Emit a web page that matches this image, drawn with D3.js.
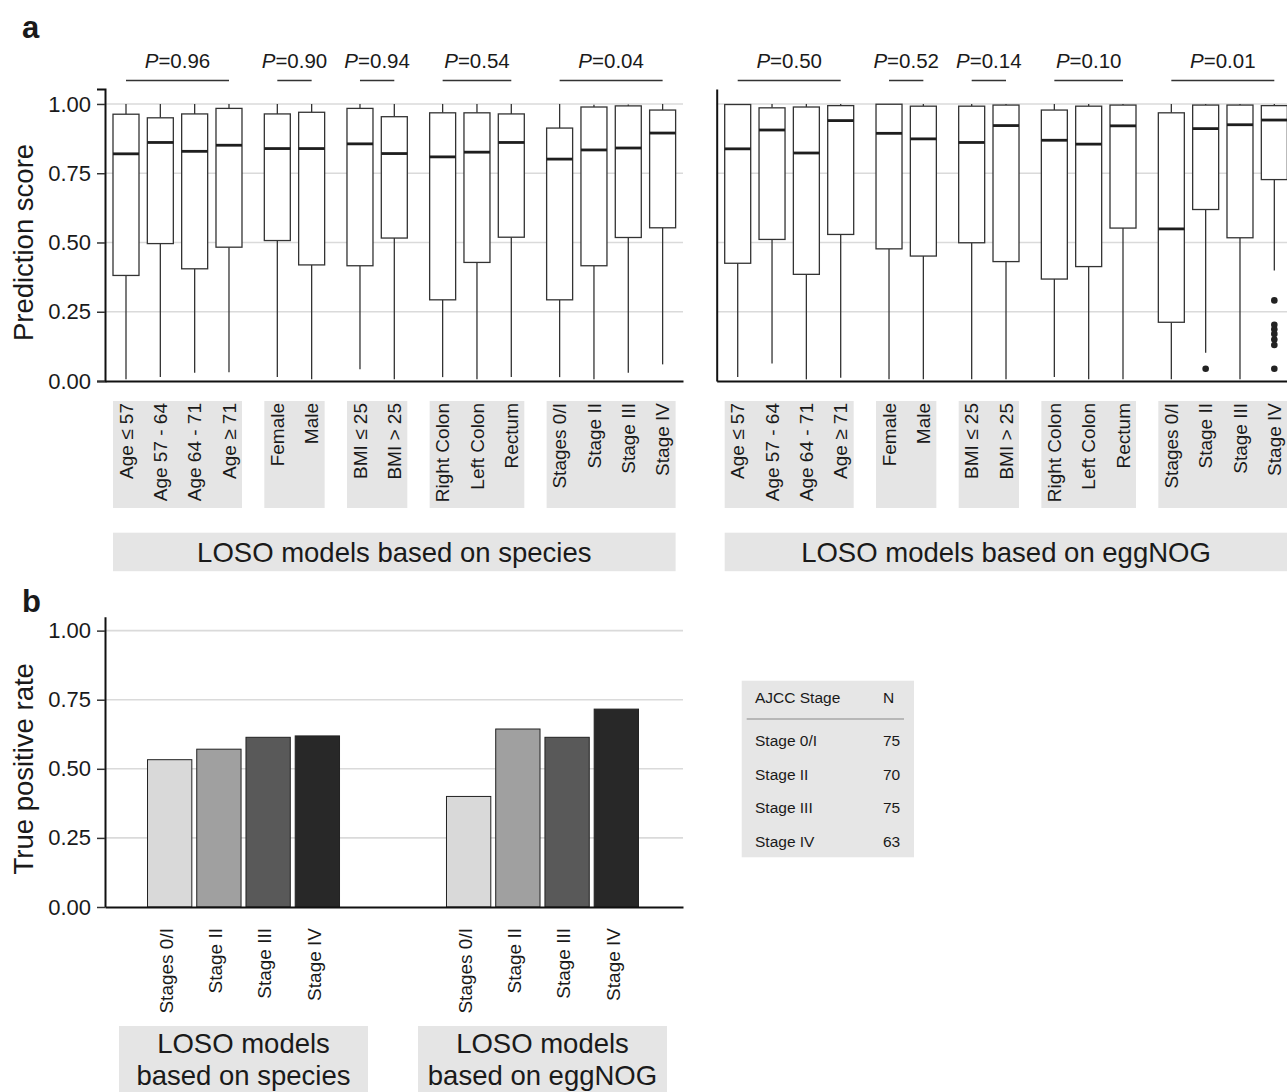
<!DOCTYPE html>
<html><head><meta charset="utf-8">
<script src="https://cdn.jsdelivr.net/npm/d3@7"></script>
<style>
body{margin:0;background:#fff}
svg{display:block}
text{font-family:"Liberation Sans",Arial,Helvetica,sans-serif;fill:#1a1a1a}
</style>
</head><body>
<svg id="chart" width="1287" height="1092"></svg>
<script>
// ---------- DATA ----------
const categories = ["Age \u2264 57","Age 57 - 64","Age 64 - 71","Age \u2265 71","Female","Male","BMI \u2264 25","BMI > 25","Right Colon","Left Colon","Rectum","Stages 0/I","Stage II","Stage III","Stage IV"];
const categoryGroup = [0,0,0,0,1,1,2,2,3,3,3,4,4,4,4];
const pSpecies = ["0.96","0.90","0.94","0.54","0.04"];
const pEggnog  = ["0.50","0.52","0.14","0.10","0.01"];

// box statistics (prediction score) - LOSO species
const speciesMin    = [0.006,0.014,0.030,0.032,0.014,0.006,0.042,0.006,0.014,0.006,0.014,0.014,0.006,0.030,0.060];
const speciesQ1     = [0.381,0.496,0.405,0.483,0.507,0.419,0.416,0.516,0.293,0.428,0.519,0.293,0.416,0.518,0.553];
const speciesMedian = [0.820,0.861,0.829,0.851,0.839,0.839,0.856,0.821,0.809,0.826,0.861,0.801,0.834,0.841,0.895];
const speciesQ3     = [0.963,0.950,0.964,0.984,0.964,0.970,0.984,0.954,0.968,0.968,0.964,0.913,0.989,0.993,0.978];
const speciesMax    = [1,1,1,1,1,1,1,1,1,1,1,1,0.997,0.998,1];

// box statistics - LOSO eggNOG
const eggnogMin    = [0.014,0.063,0.006,0.012,0.006,0.006,0.006,0.006,0.014,0.006,0.006,0.006,0.102,0.006,0.399];
const eggnogQ1     = [0.425,0.511,0.385,0.529,0.477,0.451,0.499,0.431,0.368,0.413,0.552,0.212,0.619,0.517,0.727];
const eggnogMedian = [0.838,0.906,0.823,0.940,0.894,0.874,0.861,0.922,0.869,0.855,0.921,0.549,0.911,0.925,0.942];
const eggnogQ3     = [0.998,0.986,0.989,0.994,0.999,0.992,0.992,0.996,0.978,0.992,0.996,0.968,0.996,0.996,0.994];
const eggnogMax    = [1,1,1,1,1,1,1,1,1,1,1,1,1,1,1];
const eggnogOutlierCategory = [12,14,14,14,14,14,14,14];
const eggnogOutlierValue    = [0.044,0.291,0.203,0.187,0.170,0.150,0.130,0.044];

const yTicks = [0,0.25,0.5,0.75,1];
const modelTitles = ["LOSO models based on species","LOSO models based on eggNOG"];
const modelTitleLines = [["LOSO models","based on species"],["LOSO models","based on eggNOG"]];

// panel b
const stages = ["Stages 0/I","Stage II","Stage III","Stage IV"];
const tprSpecies = [0.533,0.571,0.614,0.619];
const tprEggnog  = [0.400,0.644,0.614,0.716];
const stageColors = ["#d9d9d9","#a0a0a0","#595959","#282828"];

// table
const tableHeader = ["AJCC Stage","N"];
const tableStages = ["Stage 0/I","Stage II","Stage III","Stage IV"];
const tableN = [75,70,75,63];

// ---------- DRAW ----------
const svg = d3.select("#chart");
const gridColor = "#dadada";
const lineColor = "#333";

svg.append("text").attr("x",22).attr("y",38).attr("font-size",31).attr("font-weight","bold").text("a");
svg.append("text").attr("x",22).attr("y",612).attr("font-size",31).attr("font-weight","bold").text("b");

// ===== Panel a =====
const yA = d3.scaleLinear().domain([0,1.054]).range([381,89]);
const gapUnits = 14/34.33;
const posOf = i => i + categoryGroup[i]*gapUnits;
const nGroups = 5;

const panelsA = [
  {x0:105, first:126, min:speciesMin, q1:speciesQ1, med:speciesMedian, q3:speciesQ3, max:speciesMax, p:pSpecies, oc:[], ov:[], title:modelTitles[0], ticks:true},
  {x0:716.7, first:737.7, min:eggnogMin, q1:eggnogQ1, med:eggnogMedian, q3:eggnogQ3, max:eggnogMax, p:pEggnog, oc:eggnogOutlierCategory, ov:eggnogOutlierValue, title:modelTitles[1], ticks:false}
];

panelsA.forEach(P => {
  const xs = d3.scaleLinear().domain([0,1]).range([P.first, P.first+34.33]);
  const xRight = P.x0 + 578;
  const g = svg.append("g");

  // gridlines
  g.selectAll("line.grid").data(yTicks.filter(t=>t>0)).join("line")
    .attr("x1",P.x0).attr("x2",xRight)
    .attr("y1",d=>yA(d)).attr("y2",d=>yA(d))
    .attr("stroke",gridColor).attr("stroke-width",1.6);

  // y axis
  const ax = d3.axisLeft(yA).tickSizeOuter(0);
  if (P.ticks) ax.tickValues(yTicks).tickFormat(d3.format(".2f")).tickSize(8).tickPadding(6);
  else ax.tickValues([]);
  const ga = g.append("g").attr("transform",`translate(${P.x0},0)`).call(ax);
  ga.select(".domain").attr("stroke","#111").attr("stroke-width",2);
  ga.selectAll(".tick line").attr("stroke","#333").attr("stroke-width",1.5);
  ga.selectAll(".tick text").attr("font-size",22).attr("fill","#1a1a1a")
    .style("font-family",'"Liberation Sans",Arial,sans-serif');

  // x axis line
  const xAxisScale = d3.scaleLinear().range([P.x0, xRight]);
  const gx = g.append("g").attr("transform",`translate(0,${yA(0)})`)
    .call(d3.axisBottom(xAxisScale).tickValues([]).tickSizeOuter(0));
  gx.select(".domain").attr("stroke","#111").attr("stroke-width",2);

  // boxes
  categories.forEach((c,i) => {
    const cx = xs(posOf(i));
    g.append("line").attr("x1",cx).attr("x2",cx).attr("y1",yA(P.max[i])).attr("y2",yA(P.q3[i]))
      .attr("stroke",lineColor).attr("stroke-width",1.3);
    g.append("line").attr("x1",cx).attr("x2",cx).attr("y1",yA(P.q1[i])).attr("y2",yA(P.min[i]))
      .attr("stroke",lineColor).attr("stroke-width",1.3);
    g.append("rect").attr("x",cx-13).attr("width",26)
      .attr("y",yA(P.q3[i])).attr("height",yA(P.q1[i])-yA(P.q3[i]))
      .attr("fill","#fff").attr("stroke",lineColor).attr("stroke-width",1.3);
    g.append("line").attr("x1",cx-13).attr("x2",cx+13).attr("y1",yA(P.med[i])).attr("y2",yA(P.med[i]))
      .attr("stroke","#1e1e1e").attr("stroke-width",2.8);
  });

  // outliers
  g.selectAll("circle.out").data(P.oc.map((c,k)=>({c, v:P.ov[k]}))).join("circle")
    .attr("cx",d=>xs(posOf(d.c))).attr("cy",d=>yA(d.v)).attr("r",3.3).attr("fill","#222");

  // P-values and group strips
  for (let gi=0; gi<nGroups; gi++) {
    const idx = categories.map((c,i)=>i).filter(i=>categoryGroup[i]===gi);
    const x1 = xs(posOf(idx[0])), x2 = xs(posOf(idx[idx.length-1]));
    g.append("line").attr("x1",x1).attr("x2",x2).attr("y1",80.5).attr("y2",80.5)
      .attr("stroke","#333").attr("stroke-width",1.5);
    const t = g.append("text").attr("x",(x1+x2)/2).attr("y",68).attr("text-anchor","middle").attr("font-size",20.5);
    t.append("tspan").attr("font-style","italic").text("P");
    t.append("tspan").text("=" + P.p[gi]);

    g.append("rect").attr("x",x1-13).attr("y",401).attr("width",x2-x1+26).attr("height",107).attr("fill","#e5e5e5");
    idx.forEach(i => {
      g.append("text").attr("transform",`translate(${xs(posOf(i))},403) rotate(-90)`)
        .attr("text-anchor","end").attr("dy","0.35em").attr("font-size",19).text(categories[i]);
    });
  }

  // model strip
  const sx1 = xs(posOf(0))-13, sx2 = xs(posOf(categories.length-1))+13;
  g.append("rect").attr("x",sx1).attr("y",532.7).attr("width",sx2-sx1).attr("height",38.5).attr("fill","#e5e5e5");
  g.append("text").attr("x",(sx1+sx2)/2).attr("y",552).attr("dy","0.35em").attr("text-anchor","middle")
    .attr("font-size",27.5).text(P.title);
});

// Y title panel a
svg.append("text").attr("transform",`translate(33,${yA(0.5)}) rotate(-90)`)
  .attr("text-anchor","middle").attr("font-size",27.5).text("Prediction score");

// ===== Panel b =====
const yB = d3.scaleLinear().domain([0,1.05]).range([907,616.8]);
const xB0 = 105, xB1 = 683;
const modelKeys = ["species","eggNOG"];
const xGroup = d3.scalePoint().domain(modelKeys).range([103,683]).padding(0.47);
const xStage = d3.scaleBand().domain(stages).range([-96,96]).paddingInner(0.1);
const gb = svg.append("g");

gb.selectAll("line.grid").data(yTicks.filter(t=>t>0)).join("line")
  .attr("x1",xB0).attr("x2",xB1).attr("y1",d=>yB(d)).attr("y2",d=>yB(d))
  .attr("stroke",gridColor).attr("stroke-width",1.6);

const axB = gb.append("g").attr("transform",`translate(${xB0},0)`)
  .call(d3.axisLeft(yB).tickValues(yTicks).tickFormat(d3.format(".2f")).tickSize(8).tickPadding(6).tickSizeOuter(0));
axB.select(".domain").attr("stroke","#111").attr("stroke-width",2);
axB.selectAll(".tick line").attr("stroke","#333").attr("stroke-width",1.5);
axB.selectAll(".tick text").attr("font-size",22).attr("fill","#1a1a1a")
  .style("font-family",'"Liberation Sans",Arial,sans-serif');

const tprByModel = [tprSpecies, tprEggnog];
modelKeys.forEach((m,mi) => {
  const gx0 = xGroup(m);
  gb.selectAll(null).data(stages).join("rect")
    .attr("x",s=>gx0+xStage(s)).attr("width",xStage.bandwidth())
    .attr("y",(s,k)=>yB(tprByModel[mi][k])).attr("height",(s,k)=>yB(0)-yB(tprByModel[mi][k]))
    .attr("fill",(s,k)=>stageColors[k]).attr("stroke","#222").attr("stroke-width",1);
  stages.forEach(s => {
    gb.append("text").attr("transform",`translate(${gx0+xStage(s)+xStage.bandwidth()/2},928) rotate(-90)`)
      .attr("text-anchor","end").attr("dy","0.17em").attr("font-size",19).text(s);
  });
  gb.append("rect").attr("x",gx0-124.5).attr("y",1026).attr("width",249).attr("height",70).attr("fill","#e5e5e5");
  modelTitleLines[mi].forEach((ln,li) => {
    gb.append("text").attr("x",gx0).attr("y",1053+li*32).attr("text-anchor","middle")
      .attr("font-size",27.5).text(ln);
  });
});

const xAxB = d3.scaleLinear().range([xB0,xB1]);
const gxb = gb.append("g").attr("transform",`translate(0,${yB(0)})`)
  .call(d3.axisBottom(xAxB).tickValues([]).tickSizeOuter(0));
gxb.select(".domain").attr("stroke","#111").attr("stroke-width",2);

svg.append("text").attr("transform",`translate(33,${yB(0.5)}) rotate(-90)`)
  .attr("text-anchor","middle").attr("font-size",27.5).text("True positive rate");

// ===== Table =====
const gt = svg.append("g");
gt.append("rect").attr("x",741.7).attr("y",680.7).attr("width",172.3).attr("height",176.6).attr("fill","#e6e6e6");
gt.append("text").attr("x",755).attr("y",702.7).attr("font-size",15.5).text(tableHeader[0]);
gt.append("text").attr("x",883).attr("y",702.7).attr("font-size",15.5).text(tableHeader[1]);
gt.append("line").attr("x1",746.7).attr("x2",904).attr("y1",719).attr("y2",719).attr("stroke","#888").attr("stroke-width",1.2);
const rowY = d3.scalePoint().domain(tableStages).range([746,846.7]);
tableStages.forEach((s,k) => {
  gt.append("text").attr("x",755).attr("y",rowY(s)).attr("font-size",15.5).text(s);
  gt.append("text").attr("x",883).attr("y",rowY(s)).attr("font-size",15.5).text(tableN[k]);
});
</script>
</body></html>
